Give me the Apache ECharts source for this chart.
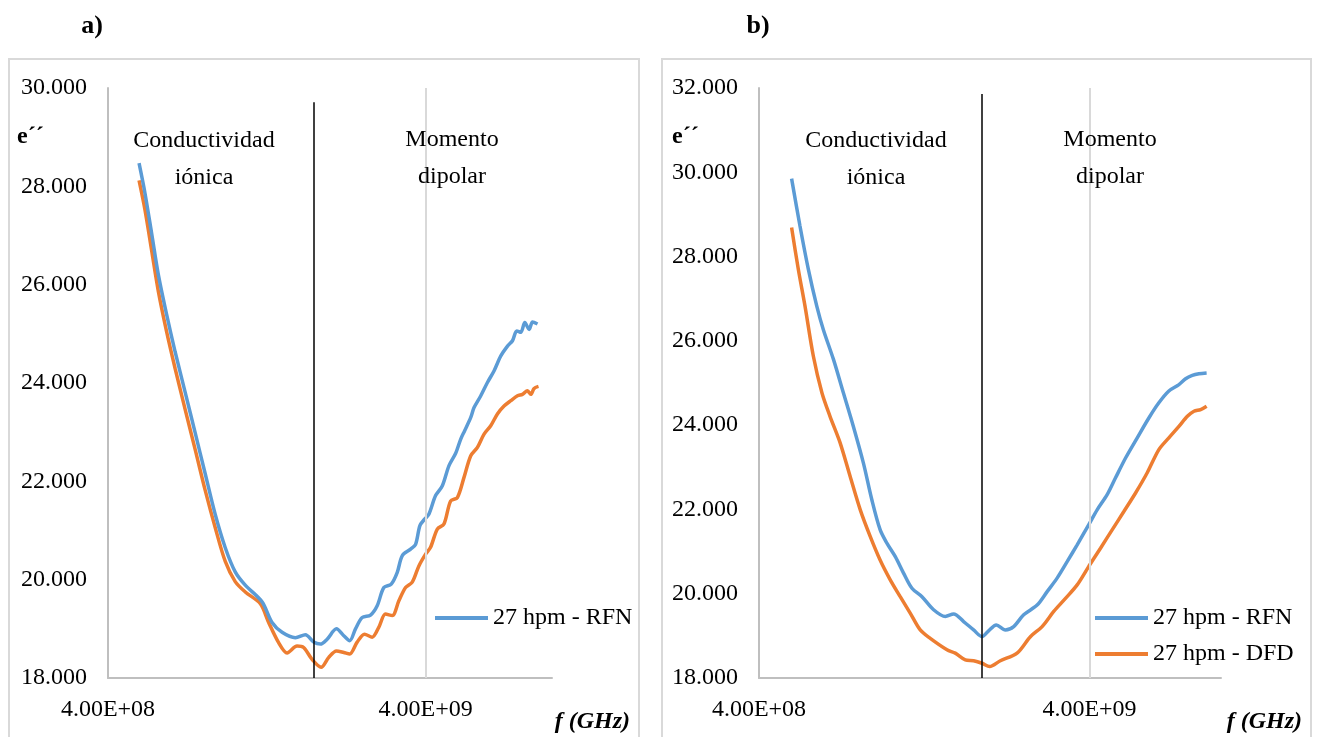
<!DOCTYPE html>
<html>
<head>
<meta charset="utf-8">
<script src="https://cdn.jsdelivr.net/npm/echarts@6/dist/echarts.min.js"></script>
<style>
  html, body { margin: 0; padding: 0; background: #ffffff; }
  #chart { width: 1319px; height: 737px; }
</style>
</head>
<body>
<div id="chart"></div>
<script>
// Loss factor e'' versus frequency, two sample sets (a and b)

// ---- panel a ----
const freqA_RFN = [0.501,0.523,0.549,0.576,0.612,0.651,0.700,0.753,0.809,0.870,0.936,1.006,1.082,1.222,1.314,1.413,1.556,1.673,1.777,1.866,1.959,2.096,2.210,2.308,2.406,2.526,2.683,2.816,2.955,3.118,3.257,3.378,3.588,3.720,3.838,3.971,4.096,4.300,4.516,4.739,4.974,5.160,5.309,5.549,5.683,5.967,6.262,6.573,6.900,7.241,7.509,7.747,7.976,8.211,8.473,8.685,9.003];
const epsA_RFN  = [28.47,27.86,27.04,26.21,25.39,24.63,23.81,22.98,22.16,21.33,20.65,20.16,19.89,19.55,19.13,18.93,18.82,18.88,18.73,18.69,18.79,19.00,18.86,18.76,19.00,19.23,19.28,19.47,19.84,19.91,20.15,20.49,20.62,20.72,21.10,21.23,21.33,21.71,21.91,22.32,22.57,22.86,23.03,23.30,23.50,23.74,24.01,24.25,24.55,24.75,24.86,25.06,25.03,25.23,25.09,25.24,25.20];

const freqA_DFD = [0.501,0.523,0.549,0.576,0.612,0.651,0.700,0.753,0.809,0.870,0.936,1.006,1.082,1.207,1.282,1.378,1.465,1.575,1.652,1.756,1.875,1.982,2.096,2.210,2.308,2.435,2.568,2.716,2.848,2.990,3.141,3.295,3.459,3.631,3.810,4.000,4.147,4.355,4.569,4.796,5.036,5.284,5.549,5.824,6.111,6.413,6.732,7.063,7.416,7.787,8.072,8.371,8.574,8.783,9.068];
const epsA_DFD  = [28.12,27.52,26.69,25.87,25.04,24.29,23.46,22.64,21.82,21.06,20.37,19.96,19.75,19.51,19.13,18.72,18.51,18.65,18.62,18.38,18.22,18.42,18.55,18.52,18.49,18.73,18.89,18.83,19.03,19.30,19.27,19.57,19.84,19.95,20.28,20.52,20.66,21.03,21.13,21.60,21.67,22.08,22.52,22.69,22.96,23.13,23.37,23.53,23.64,23.74,23.77,23.84,23.77,23.89,23.93];

// ---- panel b ----
const freqB_RFN = [0.502,0.532,0.564,0.598,0.626,0.672,0.720,0.772,0.828,0.878,0.930,0.975,1.034,1.095,1.161,1.245,1.350,1.465,1.552,1.664,1.784,1.892,1.981,2.090,2.226,2.359,2.529,2.777,2.978,3.192,3.423,3.671,3.981,4.219,4.524,4.796,5.143,5.579,6.049,6.486,6.955,7.459,7.815,8.187,8.574,9.047];
const epsB_RFN  = [29.85,28.73,27.70,26.83,26.27,25.56,24.77,23.97,23.10,22.23,21.52,21.20,20.88,20.49,20.13,19.93,19.62,19.46,19.52,19.34,19.14,18.98,19.12,19.26,19.14,19.22,19.50,19.73,20.05,20.37,20.76,21.16,21.64,21.99,22.35,22.75,23.22,23.70,24.17,24.53,24.81,24.96,25.10,25.18,25.22,25.24];

const freqB_DFD = [0.502,0.526,0.551,0.584,0.620,0.656,0.704,0.755,0.810,0.868,0.930,0.998,1.070,1.147,1.230,1.319,1.482,1.570,1.684,1.784,1.892,1.995,2.150,2.415,2.650,2.876,3.118,3.384,3.671,3.981,4.319,4.689,5.082,5.514,5.981,6.486,6.955,7.459,7.911,8.282,8.678,9.047];
const epsB_DFD  = [28.69,27.70,26.83,25.64,24.77,24.21,23.58,22.78,21.99,21.36,20.80,20.33,19.93,19.54,19.14,18.94,18.67,18.59,18.43,18.41,18.35,18.27,18.41,18.59,18.98,19.22,19.58,19.89,20.21,20.65,21.08,21.52,21.95,22.39,22.87,23.42,23.70,23.97,24.21,24.33,24.37,24.45];

// axis ticks and region boundaries (Hz / e'')
const xTicks = [4e8, 4e9];
const xTickLabels = ['4.00E+08', '4.00E+09'];
const boundaryA = 1.777e9, boundaryTopA = 29.71;
const boundaryB = 1.892e9, boundaryTopB = 31.86;

const NAME_RFN = '27 hpm - RFN';
const NAME_DFD = '27 hpm - DFD';
const BLUE = '#5B9BD5';
const ORANGE = '#ED7D31';
const SERIF = "'Times New Roman', 'Liberation Serif', serif";

const toPairs = (fGHz, vals) => fGHz.map((f, i) => [f * 1e9, vals[i]]);

const chart = echarts.init(document.getElementById('chart'), null, { renderer: 'canvas' });

function xAxisFor(idx) {
  return {
    gridIndex: idx, type: 'log', logBase: 10, min: 4e8, max: 1e10,
    axisLine: { show: true, onZero: false, lineStyle: { color: '#bfbfbf', width: 2 } },
    axisTick: { show: false }, axisLabel: { show: false }, splitLine: { show: false }
  };
}
function yAxisFor(idx, max) {
  return {
    gridIndex: idx, type: 'value', min: 18, max: max, interval: 2,
    axisLine: { show: true, lineStyle: { color: '#bfbfbf', width: 2 } },
    axisTick: { show: false }, splitLine: { show: false },
    axisLabel: { formatter: v => v.toFixed(3), fontSize: 24, fontFamily: SERIF, color: '#000', margin: 21 }
  };
}
function lineSeries(name, idx, data, color) {
  return {
    name, type: 'line', xAxisIndex: idx, yAxisIndex: idx, data,
    symbol: 'none', showSymbol: false, smooth: 0.3, z: 3,
    lineStyle: { color, width: 3.5 }, itemStyle: { color }
  };
}
// gridline + tick labels along the x axis (behind the curves)
function tickSeries(idx) {
  return {
    type: 'line', xAxisIndex: idx, yAxisIndex: idx, data: [], z: 1,
    markLine: {
      silent: true, symbol: 'none', animation: false,
      data: xTicks.map((v, i) => ({
        xAxis: v,
        lineStyle: { color: i === 0 ? 'rgba(0,0,0,0)' : '#d9d9d9', width: 2, type: 'solid' },
        label: { show: true, position: 'start', formatter: xTickLabels[i], fontSize: 24,
                 fontFamily: SERIF, color: '#000', distance: 20 }
      }))
    }
  };
}
// black boundary between the two regions (above the curves)
function boundarySeries(idx, f, top) {
  return {
    type: 'line', xAxisIndex: idx, yAxisIndex: idx, data: [], z: 5,
    markLine: {
      silent: true, symbol: 'none', animation: false,
      lineStyle: { color: '#000', width: 1.5, type: 'solid' },
      label: { show: false },
      data: [[{ coord: [f, top] }, { coord: [f, 18] }]]
    }
  };
}

function txt(text, x, y, opts) {
  return {
    type: 'text', x, y, z: 10,
    style: Object.assign({ text, fill: '#000', fontSize: 24, fontFamily: SERIF,
                           align: 'center', verticalAlign: 'middle' }, opts || {})
  };
}

const legendBase = {
  orient: 'vertical', icon: 'rect', itemWidth: 53, itemHeight: 4, itemGap: 12, padding: 0,
  selectedMode: false,
  textStyle: { fontSize: 24, fontFamily: SERIF, color: '#000', lineHeight: 24 }
};

chart.setOption({
  animation: false,
  backgroundColor: '#ffffff',
  grid: [
    { left: 108, top: 88, width: 444, height: 590 },
    { left: 759, top: 88, width: 462, height: 590 }
  ],
  xAxis: [xAxisFor(0), xAxisFor(1)],
  yAxis: [yAxisFor(0, 30), yAxisFor(1, 32)],
  legend: [
    Object.assign({}, legendBase, { data: [NAME_RFN], left: 435, top: 606 }),
    Object.assign({}, legendBase, { data: [NAME_RFN, NAME_DFD], left: 1095, top: 606 })
  ],
  series: [
    tickSeries(0),
    tickSeries(1),
    lineSeries(NAME_DFD, 0, toPairs(freqA_DFD, epsA_DFD), ORANGE),
    lineSeries(NAME_RFN, 0, toPairs(freqA_RFN, epsA_RFN), BLUE),
    lineSeries(NAME_DFD, 1, toPairs(freqB_DFD, epsB_DFD), ORANGE),
    lineSeries(NAME_RFN, 1, toPairs(freqB_RFN, epsB_RFN), BLUE),
    boundarySeries(0, boundaryA, boundaryTopA),
    boundarySeries(1, boundaryB, boundaryTopB)
  ],
  graphic: [
    { type: 'rect', shape: { x: 9, y: 59, width: 630, height: 700 },
      style: { fill: 'none', stroke: '#d9d9d9', lineWidth: 2 }, z: -1 },
    { type: 'rect', shape: { x: 662, y: 59, width: 649, height: 700 },
      style: { fill: 'none', stroke: '#d9d9d9', lineWidth: 2 }, z: -1 },
    txt('a)', 92, 26, { fontWeight: 'bold', fontSize: 26 }),
    txt('b)', 758, 26, { fontWeight: 'bold', fontSize: 26 }),
    txt('e\u00b4\u00b4', 17, 137, { fontWeight: 'bold', align: 'left' }),
    txt('e\u00b4\u00b4', 672, 137, { fontWeight: 'bold', align: 'left' }),
    txt('f (GHz)', 630, 722, { fontWeight: 'bold', fontStyle: 'italic', align: 'right' }),
    txt('f (GHz)', 1302, 722, { fontWeight: 'bold', fontStyle: 'italic', align: 'right' }),
    txt('Conductividad', 204, 141),
    txt('iónica', 204, 178),
    txt('Momento', 452, 140),
    txt('dipolar', 452, 177),
    txt('Conductividad', 876, 141),
    txt('iónica', 876, 178),
    txt('Momento', 1110, 140),
    txt('dipolar', 1110, 177)
  ]
});
</script>
</body>
</html>
